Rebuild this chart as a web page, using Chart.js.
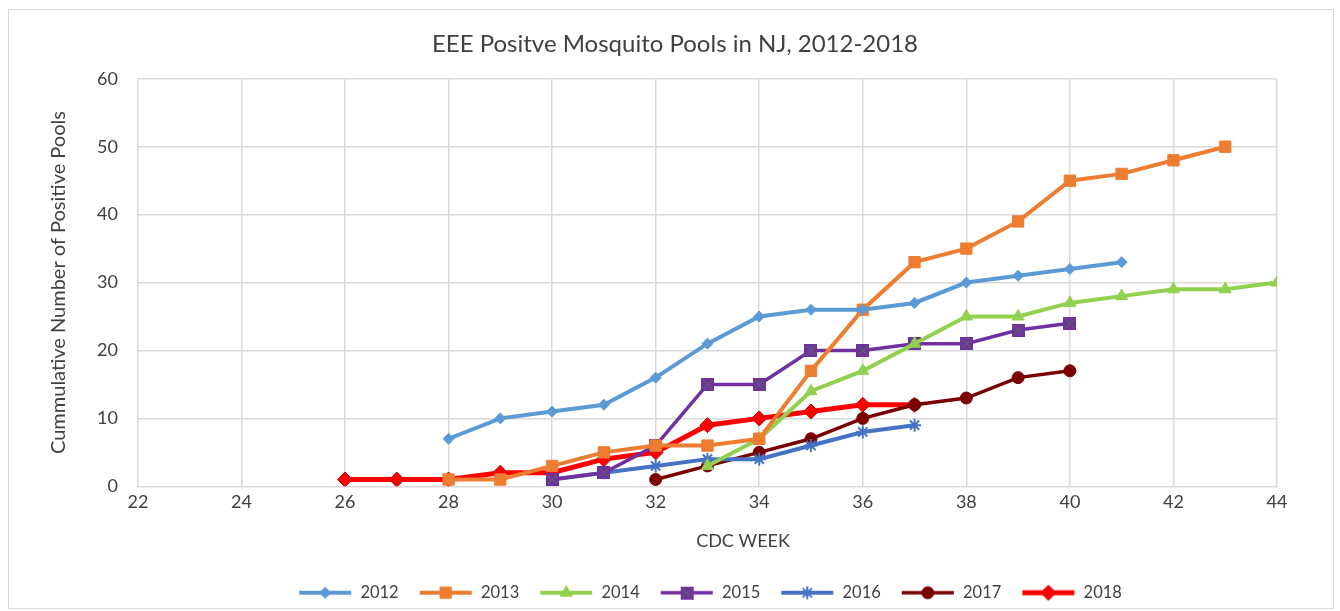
<!DOCTYPE html>
<html>
<head>
<meta charset="utf-8">
<script src="https://cdn.jsdelivr.net/npm/chart.js@4.4.0/dist/chart.umd.min.js"></script>
<style>
  html, body { margin: 0; padding: 0; background: #fff; }
  #box { position: absolute; left: 8px; top: 9px; width: 1324px; height: 598px; border: 1px solid #d9d9d9; }
  canvas { display: block; }
</style>
</head>
<body>
<div id="box"><canvas id="chart" width="1324" height="598"></canvas></div>
<script>
// CDC weeks shown on the x axis
const weeks = [26, 27, 28, 29, 30, 31, 32, 33, 34, 35, 36, 37, 38, 39, 40, 41, 42, 43, 44];

// cumulative positive pools per year (null = no data that week)
const y2012 = [null, null, 7, 10, 11, 12, 16, 21, 25, 26, 26, 27, 30, 31, 32, 33, null, null, null];
const y2013 = [null, null, 1, 1, 3, 5, 6, 6, 7, 17, 26, 33, 35, 39, 45, 46, 48, 50, null];
const y2014 = [null, null, null, null, null, null, null, 3, 7, 14, 17, 21, 25, 25, 27, 28, 29, 29, 30];
const y2015 = [null, null, null, null, 1, 2, 6, 15, 15, 20, 20, 21, 21, 23, 24, null, null, null, null];
const y2016 = [null, null, null, null, 1, 2, 3, 4, 4, 6, 8, 9, null, null, null, null, null, null, null];
const y2017 = [null, null, null, null, null, null, 1, 3, 5, 7, 10, 12, 13, 16, 17, null, null, null, null];
const y2018 = [1, 1, 1, 2, 2, 4, 5, 9, 10, 11, 12, 12, null, null, null, null, null, null, null];

const xTicks = [22, 24, 26, 28, 30, 32, 34, 36, 38, 40, 42, 44];
const yTicks = [0, 10, 20, 30, 40, 50, 60];

const xTitle = "CDC WEEK";
const textColor = "#404040";

const toPoints = (vals) =>
  weeks.map((w, i) => ({ x: w, y: vals[i] })).filter((p) => p.y !== null);

//Purple square with a grey cross, like the 2015 marker
const crossSquare = (() => {
  const c = document.createElement("canvas");
  c.width = 13;
  c.height = 13;
  const g = c.getContext("2d");
  g.fillStyle = "#7030A0";
  g.fillRect(0, 0, 13, 13);
  g.strokeStyle = "#5f5a6e";
  g.lineWidth = 1.6;
  g.beginPath();
  g.moveTo(2, 2); g.lineTo(11, 11);
  g.moveTo(11, 2); g.lineTo(2, 11);
  g.stroke();
  return c;
})();

const series = [
  { label: "2012", data: y2012, color: "#5B9BD5", border: "#5B9BD5", style: "rectRot", r: 5.5, width: 4 },
  { label: "2013", data: y2013, color: "#ED7D31", border: "#ED7D31", style: "rect", r: 8, width: 4 },
  { label: "2014", data: y2014, color: "#92D050", border: "#92D050", style: "triangle", r: 7, width: 4 },
  { label: "2015", data: y2015, color: "#7030A0", border: "#7030A0", style: crossSquare, r: 7, width: 3.5 },
  { label: "2016", data: y2016, color: "#4472C4", border: "#4472C4", style: "star", r: 6.5, width: 4 },
  { label: "2017", data: y2017, color: "#7B0000", border: "#7B0000", style: "circle", r: 6, width: 3.5 },
  { label: "2018", data: y2018, color: "#FF0000", border: "#C00000", style: "rectRot", r: 7.5, width: 5 },
];

//Draw a small line + marker image for the legend
const legendIcon = (s) => {
  const c = document.createElement("canvas");
  c.width = 54;
  c.height = 18;
  const g = c.getContext("2d");
  g.strokeStyle = s.color;
  g.lineWidth = s.width;
  g.beginPath();
  g.moveTo(1, 9);
  g.lineTo(53, 9);
  g.stroke();
  if (typeof s.style !== "string") {
    g.drawImage(s.style, 27 - s.style.width / 2, 9 - s.style.height / 2);
  } else {
    g.fillStyle = s.color;
    g.strokeStyle = s.border;
    g.lineWidth = s.style === "star" ? 2 : 1;
    Chart.helpers.drawPoint(g, { pointStyle: s.style, radius: s.r, borderWidth: g.lineWidth, rotation: 0 }, 27, 9);
    g.fill();
  }
  return c;
};

const datasets = series.map((s) => ({
  label: s.label,
  data: toPoints(s.data),
  borderColor: s.color,
  backgroundColor: s.color,
  borderWidth: s.width,
  pointStyle: s.style,
  pointRadius: s.r,
  pointHoverRadius: s.r,
  pointBackgroundColor: s.color,
  pointBorderColor: s.border,
  pointBorderWidth: s.style === "star" ? 2 : 1,
  tension: 0,
  spanGaps: false,
}));

const icons = {};

// Excel puts the title, x title and legend a little right of the chart centre
const nudge = {
  id: "nudge",
  afterLayout(chart) {
    const t = chart.titleBlock;
    t.left += 13; t.right += 13;
    const l = chart.legend;
    l.left += 48; l.right += 48;
    l.top += 3; l.bottom += 3;
  },
  afterDraw(chart) {
    const x = chart.scales.x;
    const ctx = chart.ctx;
    ctx.save();
    ctx.font = "18px Lato";
    ctx.fillStyle = textColor;
    ctx.textAlign = "center";
    ctx.textBaseline = "middle";
    ctx.fillText(xTitle, 742 - 8, x.bottom - 20);
    ctx.restore();
  },
};

const chart = new Chart(document.getElementById("chart").getContext("2d"), {
  type: "line",
  data: { datasets },
  options: {
    responsive: false,
    animation: false,
    layout: { padding: { left: 38, right: 56, top: 10, bottom: 0 } },
    plugins: {
      title: {
        display: true,
        text: "EEE Positve Mosquito Pools in NJ, 2012-2018",
        color: textColor,
        font: { family: "Lato", size: 24, weight: "normal" },
        padding: { top: 10, bottom: 20 },
      },
      legend: {
        position: "bottom",
        labels: {
          usePointStyle: true,
          pointStyleWidth: 54,
          color: textColor,
          font: { family: "Lato", size: 16.5 },
          padding: 20,
          generateLabels: (ch) => {
            const items = Chart.defaults.plugins.legend.labels.generateLabels(ch);
            items.forEach((it, i) => {
              if (!icons[i]) icons[i] = legendIcon(series[i]);
              it.pointStyle = icons[i];
            });
            return items;
          },
        },
      },
      tooltip: { enabled: false },
    },
    scales: {
      x: {
        type: "linear",
        min: 22,
        max: 44,
        afterBuildTicks: (ax) => { ax.ticks = xTicks.map((v) => ({ value: v })); },
        grid: { color: "#d9d9d9", lineWidth: 1.5, drawTicks: false },
        border: { color: "#d9d9d9" },
        ticks: { color: textColor, font: { family: "Lato", size: 18 }, padding: 5 },
        title: {
          display: true,
          text: xTitle,
          color: "rgba(0,0,0,0)",
          font: { family: "Lato", size: 18 },
          padding: { top: 4, bottom: 18 },
        },
      },
      y: {
        min: 0,
        max: 60,
        afterBuildTicks: (ax) => { ax.ticks = yTicks.map((v) => ({ value: v })); },
        grid: { color: "#d9d9d9", lineWidth: 1.5, drawTicks: false },
        border: { display: false },
        ticks: { color: textColor, font: { family: "Lato", size: 18 }, padding: 20 },
        title: {
          display: true,
          text: "Cummulative Number of Positive Pools",
          color: textColor,
          font: { family: "Lato", size: 20 },
          padding: { top: 0, bottom: 6 },
        },
      },
    },
  },
  plugins: [nudge],
});
</script>
</body>
</html>
